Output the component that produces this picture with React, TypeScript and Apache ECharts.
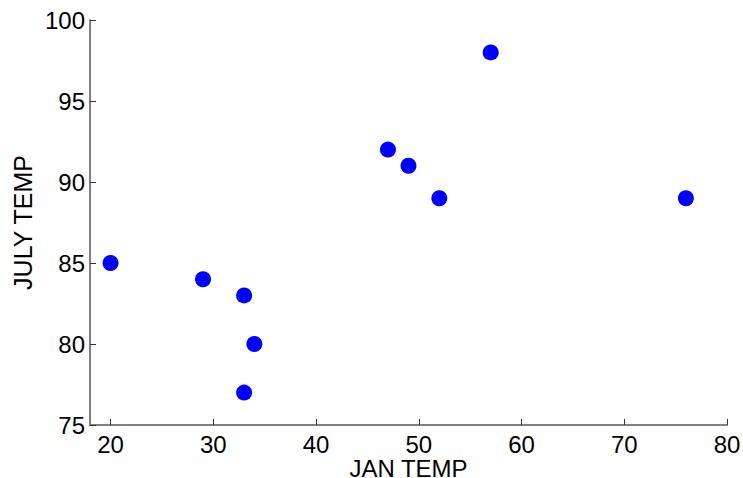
import React, { useEffect, useRef } from "react";
import * as echarts from "echarts";

const janTemp = [20, 29, 33, 34, 33, 47, 49, 52, 57, 76];
const julyTemp = [85, 84, 83, 80, 77, 92, 91, 89, 98, 89];
const xTicks = [20, 30, 40, 50, 60, 70, 80];
const yTicks = [75, 80, 85, 90, 95, 100];

export default function App() {
  const ref = useRef<HTMLDivElement>(null);
  useEffect(() => {
    const chart = echarts.init(ref.current!, null, { renderer: "svg" });
    const font = "'Liberation Sans', Arial, Helvetica, sans-serif";
    chart.setOption({
      animation: false,
      backgroundColor: "#ffffff",
      grid: { left: 90, right: 16, top: 20, bottom: 53, containLabel: false, outerBoundsMode: "none" },
      xAxis: {
        type: "value",
        min: 18,
        max: 80,
        interval: 10,
        name: "JAN TEMP",
        nameLocation: "middle",
        nameGap: 43,
        nameMoveOverlap: false,
        nameTextStyle: { fontFamily: font, fontSize: 24, color: "#000", verticalAlign: "middle", lineHeight: 18 },
        axisLine: { show: true, lineStyle: { color: "#808080", width: 2 } },
        axisTick: { show: true, inside: true, length: 6, lineStyle: { color: "#333" }, customValues: xTicks },
        axisLabel: { fontFamily: font, fontSize: 24, color: "#000", margin: 7, customValues: xTicks },
        splitLine: { show: false },
      },
      yAxis: {
        type: "value",
        min: 75,
        max: 100,
        interval: 5,
        name: "JULY TEMP",
        nameLocation: "middle",
        nameGap: 55,
        nameMoveOverlap: false,
        nameTextStyle: { fontFamily: font, fontSize: 25, color: "#000" },
        axisLine: { show: true, lineStyle: { color: "#808080", width: 2 } },
        axisTick: { show: true, inside: true, length: 6, lineStyle: { color: "#333" }, customValues: yTicks },
        axisLabel: { fontFamily: font, fontSize: 24, color: "#000", margin: 5, customValues: yTicks },
        splitLine: { show: false },
      },
      series: [
        {
          type: "scatter",
          data: janTemp.map((x, i) => [x, julyTemp[i]]),
          symbol: "circle",
          symbolSize: 16,
          itemStyle: { color: "#0000ff", opacity: 1 },
        },
      ],
    });
    return () => chart.dispose();
  }, []);
  return <div ref={ref} style={{ width: 743, height: 478, position: "absolute", left: 0, top: 0 }} />;
}
